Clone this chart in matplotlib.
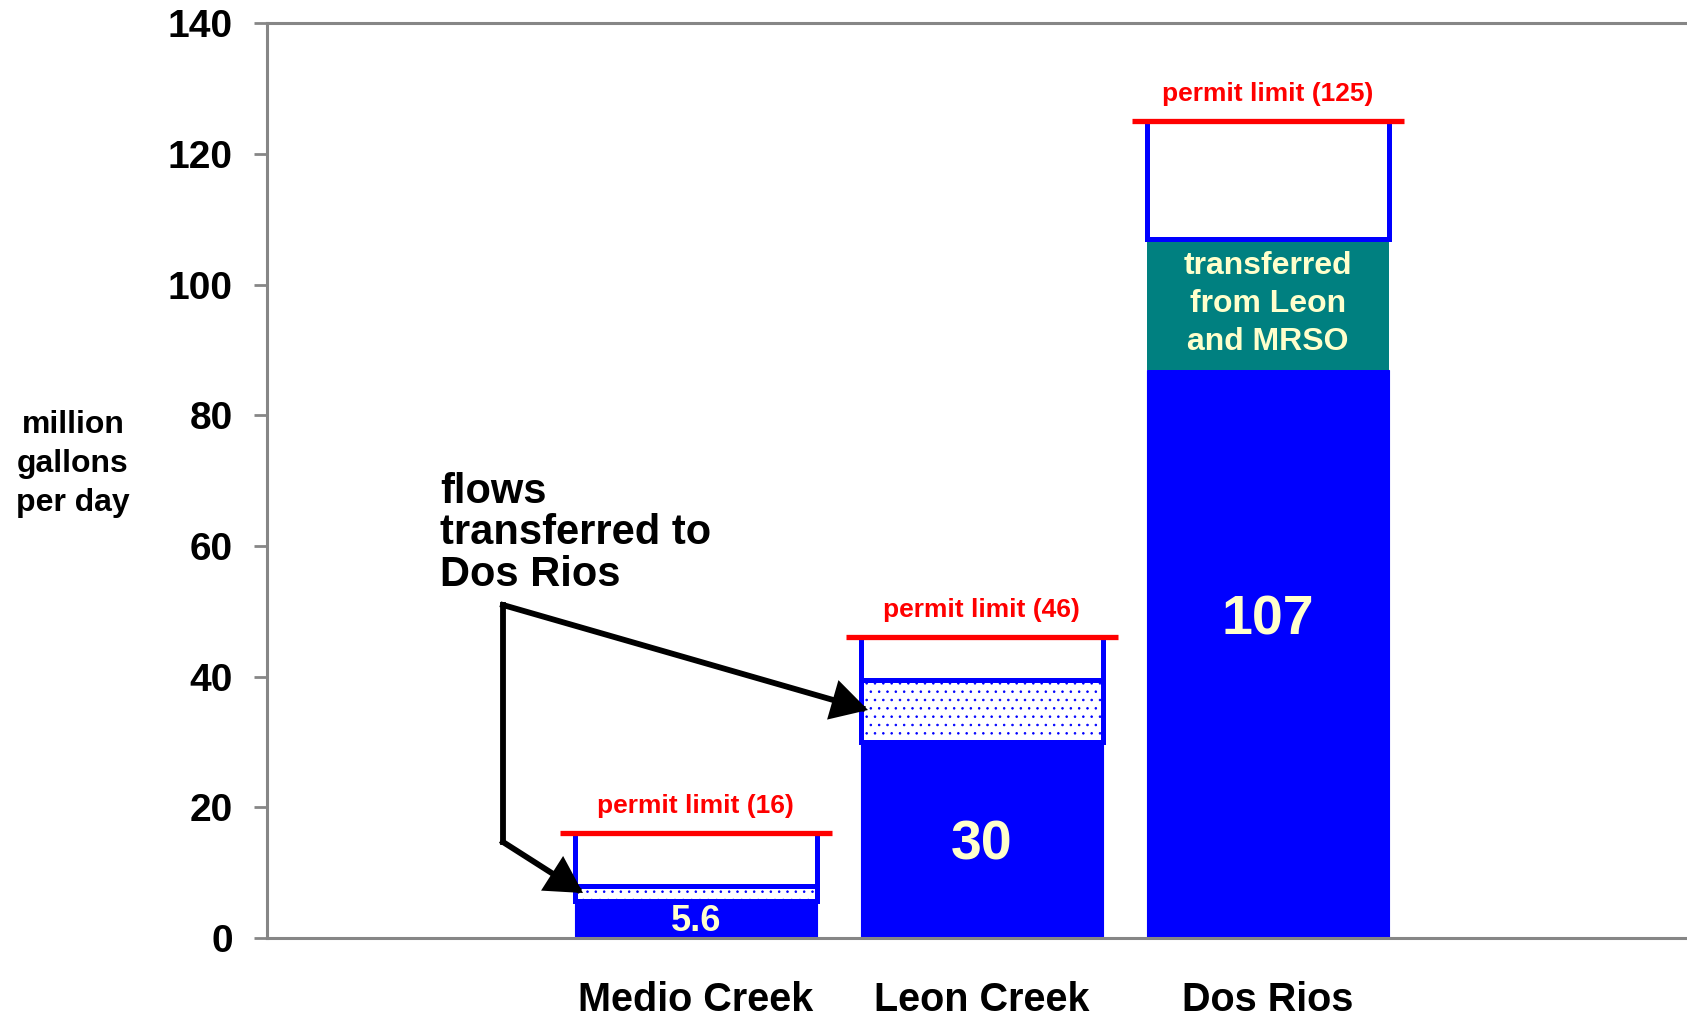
import matplotlib.pyplot as plt
import numpy as np

# values (million gallons per day)
CATEGORIES = ["Medio Creek", "Leon Creek", "Dos Rios"]
BASE_FLOW = [5.6, 30, 87]          # solid blue part
SEGMENT_TOP = [7.9, 39.5, 107]     # top of dotted / teal segment
PERMIT_LIMITS = [16, 46, 125]
FLOW_LABELS = ["5.6", "30", "107"]
FLOW_LABEL_Y = [2.6, 14.2, 48.6]
FLOW_LABEL_SIZE = [26, 40, 40]
PERMIT_LABELS = [f"permit limit ({p})" for p in PERMIT_LIMITS]
TRANSFER_IN_TEXT = "transferred\nfrom Leon\nand MRSO"
ANNOT_LINES = ["flows", "transferred to", "Dos Rios"]
Y_TICKS = [0, 20, 40, 60, 80, 100, 120, 140]

BLUE = "#0000FF"
TEAL = "#008080"
RED = "#FF0000"
CREAM = "#FFFFCC"
GRAY = "#868686"

W, H = 1687, 1016
AX_LEFT, AX_RIGHT, AX_TOP, AX_BOTTOM = 266.7, 1687, 23.3, 938  # pixels
SLOT = 286.0  # px per category

plt.rcParams["font.family"] = ["Liberation Sans", "DejaVu Sans"]
plt.rcParams["font.weight"] = "bold"
plt.rcParams["hatch.linewidth"] = 0.6

fig = plt.figure(figsize=(W / 100, H / 100), dpi=100)
ax = fig.add_axes([AX_LEFT / W, 1 - AX_BOTTOM / H,
                   (AX_RIGHT - AX_LEFT) / W, (AX_BOTTOM - AX_TOP) / H])

x = np.arange(len(CATEGORIES))
bar_w = 0.846
edge_lw = 3.6

base = np.array(BASE_FLOW, dtype=float)
seg_top = np.array(SEGMENT_TOP, dtype=float)
limits = np.array(PERMIT_LIMITS, dtype=float)

# solid blue current flow
ax.bar(x, base, width=bar_w, color=BLUE, edgecolor=BLUE, linewidth=0.8, zorder=2)

# transferred segments: dotted for Medio/Leon, teal for Dos Rios
ax.bar(x[:2], seg_top[:2] - base[:2], bottom=base[:2], width=bar_w,
       facecolor="white", edgecolor=BLUE, linewidth=edge_lw, hatch="..", zorder=2)
ax.bar(x[2], seg_top[2] - base[2], bottom=base[2], width=bar_w,
       color=TEAL, linewidth=0, zorder=2)

# unused capacity up to permit limit
ax.bar(x, limits - seg_top, bottom=seg_top, width=bar_w, facecolor="white",
       edgecolor=BLUE, linewidth=edge_lw, zorder=3)

# permit limit lines and labels
ax.hlines(limits, x - 0.475, x + 0.475, color=RED, linewidth=3.8, zorder=4)
for xi, lim, lab in zip(x, limits, PERMIT_LABELS):
    ax.annotate(lab, (xi, lim), xytext=(0, 19.5), textcoords="offset points",
                ha="center", va="center", color=RED, fontsize=19, fontweight="bold")

# value labels
for xi, yv, lab, fs in zip(x, FLOW_LABEL_Y, FLOW_LABELS, FLOW_LABEL_SIZE):
    ax.text(xi, yv, lab, ha="center", va="center", color=CREAM,
            fontsize=fs, fontweight="bold", zorder=5)

ax.text(x[2], (base[2] + seg_top[2]) / 2, TRANSFER_IN_TEXT, ha="center", va="center",
        color=CREAM, fontsize=23, fontweight="bold", linespacing=1.35, zorder=5)

# axes styling
ax.set_xlim(-1.5, -1.5 + (AX_RIGHT - AX_LEFT) / SLOT)
ax.set_ylim(0, 140)
ax.set_yticks(Y_TICKS)
ax.set_yticklabels([str(t) for t in Y_TICKS], fontsize=28, fontweight="bold")
ax.set_xticks(x)
ax.set_xticklabels(CATEGORIES, fontsize=28.5, fontweight="bold")
ax.tick_params(axis="y", direction="out", length=9.4, width=2.0, color=GRAY, pad=15)
ax.tick_params(axis="x", length=0, pad=31)
for side in ["left", "top", "bottom"]:
    ax.spines[side].set_color(GRAY)
    ax.spines[side].set_linewidth(2.2)
    ax.spines[side].set_zorder(6)
ax.spines["right"].set_visible(False)

fig.text(73 / W, 1 - 464 / H, "million\ngallons\nper day", ha="center", va="center",
         fontsize=23, fontweight="bold", linespacing=1.4)

# callout text
for line, base_px in zip(ANNOT_LINES, [503, 544, 586]):
    fig.text(440 / W, 1 - base_px / H, line, ha="left", va="baseline",
             fontsize=30, fontweight="bold")


def px_to_data(px, py):
    return (px - AX_LEFT) / SLOT - 1.5, (AX_BOTTOM - py) * 140 / (AX_BOTTOM - AX_TOP)


start = px_to_data(503, 605)
corner = px_to_data(503, 842)
tip_leon = px_to_data(868, 710)
tip_medio = px_to_data(583, 893)

ax.plot([start[0], corner[0]], [start[1], corner[1]], color="black", linewidth=4.2,
        solid_capstyle="projecting", zorder=7, clip_on=False)
arrow_style = dict(arrowstyle="-|>,head_length=0.5,head_width=0.28", color="black",
                   linewidth=4.2, mutation_scale=40, shrinkA=0, shrinkB=0,
                   joinstyle="miter", capstyle="projecting")
ax.annotate("", xy=tip_leon, xytext=start, arrowprops=arrow_style, zorder=7)
ax.annotate("", xy=tip_medio, xytext=corner, arrowprops=arrow_style, zorder=7)

fig.savefig("out.png", dpi=100)
